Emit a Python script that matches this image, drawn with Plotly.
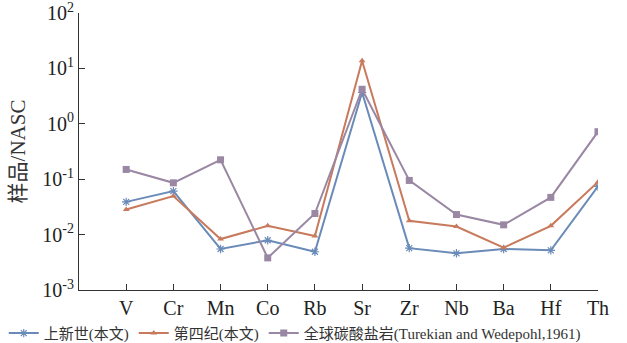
import plotly.graph_objects as go

elements = ["V", "Cr", "Mn", "Co", "Rb", "Sr", "Zr", "Nb", "Ba", "Hf", "Th"]
pliocene = [0.039, 0.061, 0.0055, 0.0079, 0.0049, 3.67, 0.0057, 0.0046, 0.0055, 0.0052, 0.074]
quaternary = [0.0284, 0.0495, 0.0083, 0.0144, 0.0094, 13.7, 0.0178, 0.014, 0.0058, 0.0144, 0.089]
carbonate = [0.15, 0.086, 0.224, 0.0038, 0.024, 4.2, 0.095, 0.023, 0.015, 0.047, 0.72]
names = ["上新世(本文)", "第四纪(本文)", "全球碳酸盐岩(Turekian and Wedepohl,1961)"]
ytick_vals = [1e-3, 1e-2, 1e-1, 1e0, 1e1, 1e2]
ytick_text = ["10<sup>-3</sup>", "10<sup>-2</sup>", "10<sup>-1</sup>", "10<sup>0</sup>", "10<sup>1</sup>", "10<sup>2</sup>"]

FONT = "Liberation Serif, Times New Roman, Noto Sans CJK SC, serif"
xs = list(range(len(elements)))

fig = go.Figure()
fig.add_trace(go.Scatter(x=xs, y=pliocene, name=names[0], mode="lines+markers",
                         line=dict(color="#6a8bb8", width=2),
                         marker=dict(symbol="asterisk-open", size=7, color="#6a8bb8",
                                     line=dict(color="#6a8bb8", width=1.2))))
fig.add_trace(go.Scatter(x=xs, y=quaternary, name=names[1], mode="lines+markers",
                         line=dict(color="#c87a5c", width=2),
                         marker=dict(symbol="triangle-up", size=6, color="#c87a5c")))
fig.add_trace(go.Scatter(x=xs, y=carbonate, name=names[2], mode="lines+markers",
                         line=dict(color="#9a87a3", width=2),
                         marker=dict(symbol="square", size=7, color="#9a87a3")))

fig.update_layout(
    width=627, height=343,
    margin=dict(l=79, r=29, t=13, b=53, autoexpand=False),
    paper_bgcolor="white", plot_bgcolor="white",
    font=dict(family=FONT, color="#222"),
    showlegend=True,
    legend=dict(orientation="h", x=-0.145, xanchor="left", y=-0.097, yanchor="top",
                font=dict(size=15, family=FONT, color="#333"),
                itemwidth=30, tracegroupgap=0, bgcolor="rgba(0,0,0,0)"),
    xaxis=dict(range=[-1, 10], tickvals=xs, ticktext=elements, showgrid=False,
               zeroline=False, showline=True, linecolor="#333", linewidth=1.2,
               ticks="inside", ticklen=6, tickcolor="#333", tickwidth=1.2,
               tickfont=dict(size=20, family=FONT, color="#222")),
    yaxis=dict(type="log", range=[-3, 2], tickvals=ytick_vals, ticktext=ytick_text,
               showgrid=False, zeroline=False, showline=True, linecolor="#333", linewidth=1.2,
               ticks="inside", ticklen=6, tickcolor="#333", tickwidth=1.2,
               ticklabeloverflow="allow",
               tickfont=dict(size=20, family=FONT, color="#222"),
               title=dict(text="样品/NASC", font=dict(size=21, family=FONT, color="#333"), standoff=10)),
)

fig.write_html("out.html")
